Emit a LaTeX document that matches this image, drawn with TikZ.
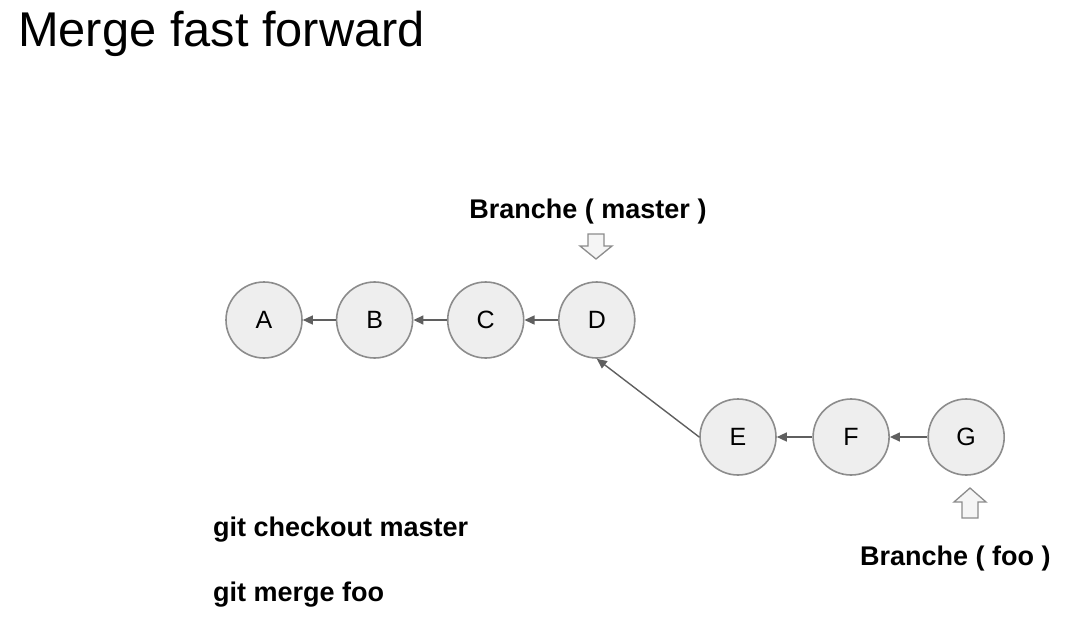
\documentclass[tikz,border=0pt]{standalone}
\usepackage{xcolor}
\usepackage{fontspec}
\setmainfont{Liberation Sans}
\usepackage{tikz}
\usetikzlibrary{arrows.meta, positioning, calc}
\definecolor{Ring}{HTML}{8C8C8C}
\definecolor{Fillc}{HTML}{EEEEEE}
\definecolor{Line}{HTML}{5F5F5F}
\tikzset{
  commit/.style={circle, draw=Ring, line width=1.6pt, fill=Fillc, minimum size=76pt,
                 inner sep=0pt, font=\fontsize{25}{29}\selectfont},
  arr/.style={-{Triangle[length=10pt,width=9pt]}, line width=1.4pt, color=Line},
  lbl/.style={font=\bfseries\fontsize{27}{32}\selectfont, inner sep=0pt},
  blockarr/.style={draw=Ring, line width=1.3pt, fill=Fillc!60!white, line join=miter}
}

\begin{document}
\begin{tikzpicture}[x=1pt, y=1pt]
  \useasboundingbox (0,0) rectangle (1088,-640);
  \node[anchor=base west, inner sep=0pt, font=\fontsize{48.8}{56}\selectfont] (title) at (18,-46) {Merge fast forward};

  \node[commit] (A) at (264,-320) {A};
  \node[commit,right=33pt of A] (B) {B};
  \node[commit,right=33.5pt of B] (C) {C};
  \node[commit,right=33.5pt of C] (D) {D};
  \node[commit] (E) at (738,-437) {E};
  \node[commit,right=35.5pt of E] (F) {F};
  \node[commit,right=37.5pt of F] (G) {G};
  \draw[arr](B)--(A); \draw[arr](C)--(B); \draw[arr](D)--(C);
  \draw[arr](E.west)--(D.south);
  \draw[arr](F)--(E); \draw[arr](G)--(F);

  \node[lbl, anchor=base] (master) at (588,-218) {Branche ( master )};
  \node[lbl, anchor=base west] (foo) at (860,-565) {Branche ( foo )};
  \node[lbl, anchor=base west] (cmd1) at (213,-536) {git checkout master};
  \node[lbl, anchor=base west] (cmd2) at (213,-601) {git merge foo};

  % branch pointers
  \coordinate (mtip) at (596,-259);
  \draw[blockarr] (mtip) -- ++(-16,13) -- ++(8,0) -- ++(0,12) -- ++(16,0)
    -- ++(0,-12) -- ++(8,0) -- cycle;
  \coordinate (ftip) at (970,-488);
  \draw[blockarr] (ftip) -- ++(-16,-14) -- ++(8,0) -- ++(0,-16) -- ++(16,0)
    -- ++(0,16) -- ++(8,0) -- cycle;
\end{tikzpicture}
\end{document}
